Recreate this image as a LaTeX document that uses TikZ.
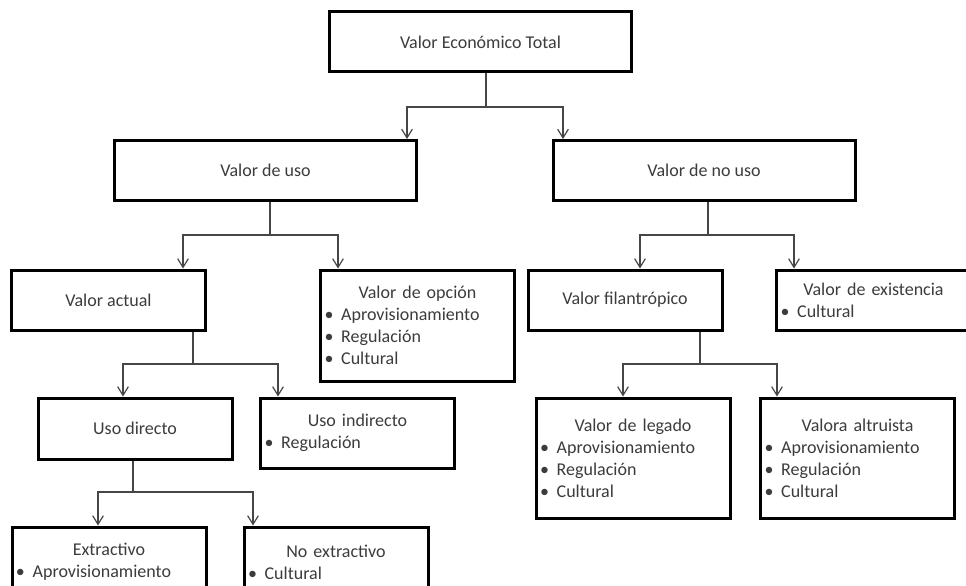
\documentclass[tikz,border=0pt]{standalone}
\usepackage{fontspec}
\setmainfont{Carlito}
\usetikzlibrary{arrows.meta}

\definecolor{gristexto}{RGB}{60,60,60}
\definecolor{grislinea}{RGB}{70,70,70}

\newcommand{\vineta}{\makebox[12.5pt][l]{\textbullet}}
\newcommand{\titulo}[1]{{\centering #1\par}}

\tikzset{
  caja/.style={draw=black, line width=2.25pt, fill=white, inner xsep=3pt, inner ysep=2pt, text=gristexto, font=\fontsize{13.5}{16.5}\selectfont},
  cajagrande/.style={caja, minimum width=226.5pt, minimum height=45pt},
  cajachica/.style={caja, minimum width=145.5pt, minimum height=45pt},
  lista/.style={caja, text width=139.5pt, align=left},
  linea/.style={draw=grislinea, line width=0.9pt},
  flecha/.style={linea, -{Straight Barb[length=6.5pt,width=8pt]}},
}

\begin{document}
\begin{tikzpicture}[x=0.75pt,y=0.75pt,yscale=-1,xscale=1]
\useasboundingbox (0,0) rectangle (966,585);
\clip (0,0) rectangle (966,585);

% Cajas
\node[cajagrande] (vet) at (480.5,42) {Valor Económico Total};
\node[cajagrande] (vu) at (265.5,170.5) {Valor de uso};
\node[cajagrande] (vnu) at (704,170.5) {Valor de no uso};

\node[cajachica] (va) at (108.5,300) {Valor actual};
\node[lista, minimum height=83.25pt] (vo) at (417.5,325.5) {\titulo{Valor de opción}\vineta Aprovisionamiento\\\vineta Regulación\\\vineta Cultural};
\node[cajachica] (vf) at (625,300) {Valor filantrópico};
\node[lista, minimum height=45pt] (ve) at (873.5,300) {\titulo{Valor de existencia}\vineta Cultural};

\node[cajachica, minimum height=45.75pt] (ud) at (135,428.5) {Uso directo};
\node[lista, minimum height=52.5pt] (ui) at (357.5,433) {\titulo{Uso indirecto}\vineta Regulación};
\node[lista, minimum height=90pt] (vl) at (633,458) {\titulo{Valor de legado}\vineta Aprovisionamiento\\\vineta Regulación\\\vineta Cultural};
\node[lista, minimum height=90pt] (vaa) at (857.5,458) {\titulo{Valora altruista}\vineta Aprovisionamiento\\\vineta Regulación\\\vineta Cultural};

\node[lista, minimum height=52.5pt] (ext) at (109,562) {\titulo{Extractivo}\vineta Aprovisionamiento};
\node[lista, text width=132pt, minimum height=52.5pt] (nex) at (336,562) {\titulo{No extractivo}\vineta Cultural};

% Uniones
\coordinate (j1) at (486,107);
\coordinate (j2) at (270,235);
\coordinate (j3) at (708,235);
\coordinate (j4) at (193,364);
\coordinate (j5) at (700,364);
\coordinate (j6) at (133,492);

% Conectores
\draw[linea] (vet.south -| j1) -- (j1);
\draw[flecha] (j1) -| (vu.north -| 407,0);
\draw[flecha] (j1) -| (vnu.north -| 563,0);

\draw[linea] (vu.south -| j2) -- (j2);
\draw[flecha] (j2) -| (va.north -| 183,0);
\draw[flecha] (j2) -| (vo.north -| 338,0);

\draw[linea] (vnu.south -| j3) -- (j3);
\draw[flecha] (j3) -| (vf.north -| 640,0);
\draw[flecha] (j3) -| (ve.north -| 794,0);

\draw[linea] (va.south -| j4) -- (j4);
\draw[flecha] (j4) -| (ud.north -| 123,0);
\draw[flecha] (j4) -| (ui.north -| 278,0);

\draw[linea] (vf.south -| j5) -- (j5);
\draw[flecha] (j5) -| (vl.north -| 623,0);
\draw[flecha] (j5) -| (vaa.north -| 777,0);

\draw[linea] (ud.south -| j6) -- (j6);
\draw[flecha] (j6) -| (ext.north -| 98,0);
\draw[flecha] (j6) -| (nex.north -| 253,0);

\end{tikzpicture}
\end{document}
